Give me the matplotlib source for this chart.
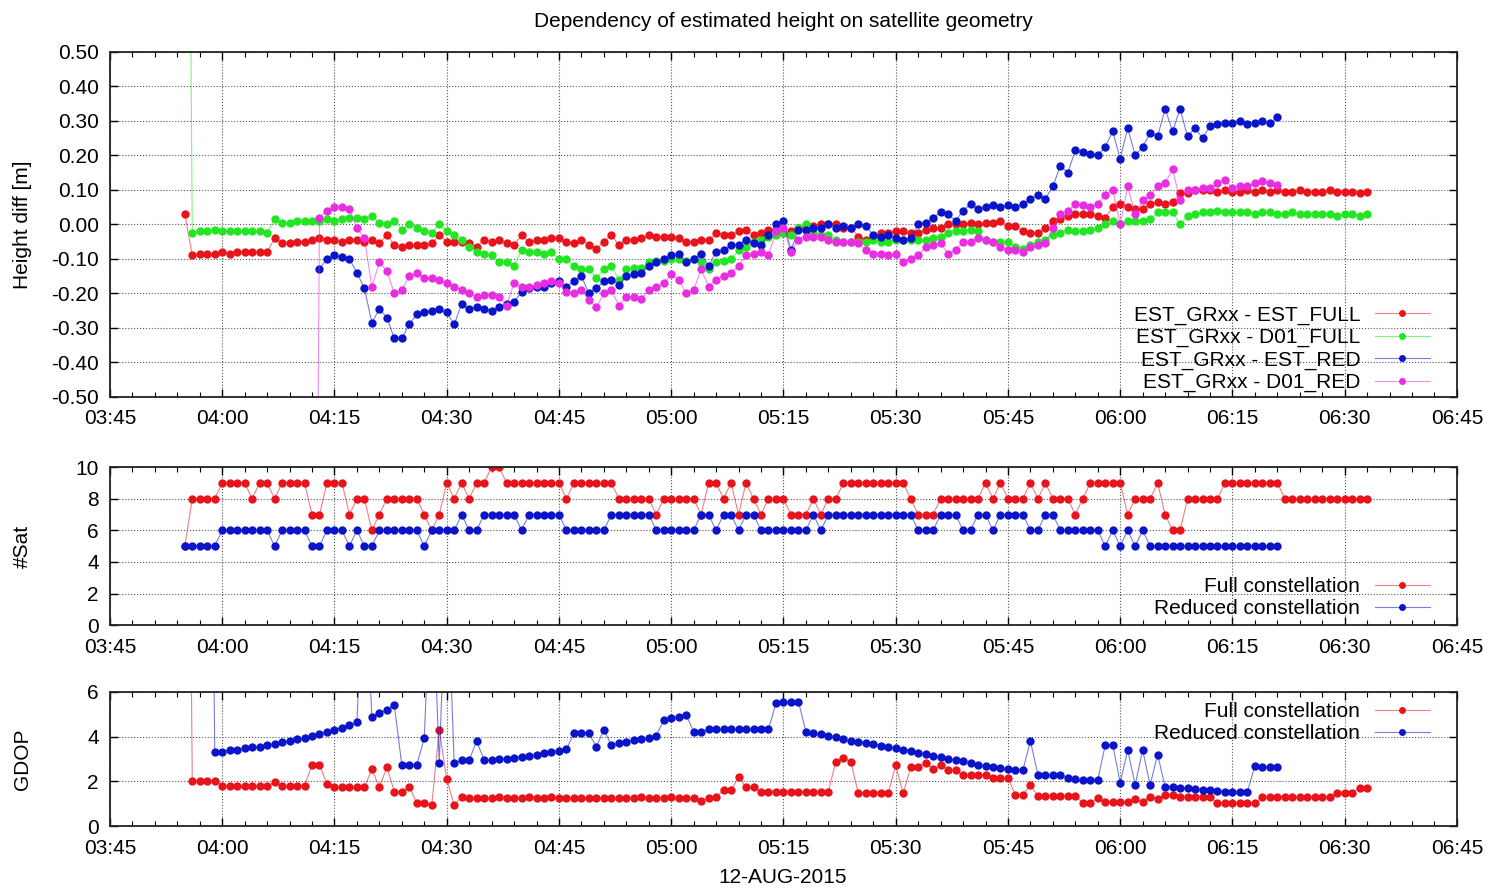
import numpy as np
import matplotlib
matplotlib.use('Agg')
import matplotlib.pyplot as plt
from matplotlib.ticker import MultipleLocator, FuncFormatter

plt.rcParams['font.family'] = ['Liberation Sans', 'DejaVu Sans']
plt.rcParams['font.size'] = 15

# sample grid: one value per minute, first sample time given as HH:MM
full_start = "03:55"     # full constellation (heights, #Sat, GDOP)
red_start = "04:12"      # reduced constellation heights (magenta starts with a spike)
est_red_start = "04:13"
sat_red_start = "03:55"  # reduced constellation #Sat / GDOP

# height differences [m]
est_full = [0.03,
    -0.09, -0.085, -0.085, -0.085, -0.08, -0.085, -0.08, -0.08, -0.08, -0.08, -0.08,
    -0.04,
    -0.055, -0.055, -0.05, -0.05, -0.045, -0.04, -0.045,
    -0.045, -0.05, -0.045, -0.045, -0.05, -0.045,
    -0.055, -0.03, -0.06, -0.065, -0.06,
    -0.06, -0.06, -0.055, -0.03, -0.05,
    -0.05, -0.05, -0.055, -0.065, -0.045,
    -0.05, -0.045, -0.055, -0.06, -0.03,
    -0.05, -0.045, -0.045, -0.04, -0.04,
    -0.05, -0.055, -0.045,
    -0.06, -0.07, -0.05, -0.03, -0.06, -0.045, -0.045,
    -0.04, -0.03, -0.035, -0.035, -0.035, -0.04, -0.05, -0.05, -0.045, -0.045,
    -0.026, -0.03, -0.03, -0.02, -0.015, -0.03, -0.025, -0.015, -0.02, -0.026,
    -0.02, -0.01, -0.005, -0.005, 0.0, 0.0, 0.0, -0.01, -0.01, -0.035,
    -0.045, -0.035, -0.025, -0.025, -0.02, -0.02, -0.025, -0.025, -0.015, -0.01,
    -0.01, 0.0, 0.0, 0.0, 0.005, 0.0, 0.005, 0.005, 0.01, -0.005,
    -0.005, -0.02, -0.025, -0.025, -0.01, 0.01, 0.015, 0.025, 0.03, 0.03,
    0.03, 0.025, 0.02, 0.05, 0.06, 0.05, 0.045, 0.045, 0.06, 0.065,
    0.06, 0.065, 0.09, 0.09, 0.1, 0.1, 0.1, 0.095, 0.1, 0.095,
    0.095, 0.1, 0.095, 0.1, 0.095, 0.1, 0.095, 0.095, 0.1, 0.095,
    0.095, 0.095, 0.1, 0.095, 0.095, 0.095, 0.09, 0.095]

d01_full = [3.0,
    -0.025, -0.02, -0.02, -0.015, -0.02, -0.02, -0.02, -0.02, -0.02, -0.02, -0.025,
    0.015,
    0.005, 0.005, 0.01, 0.01, 0.01, 0.01, 0.015,
    0.01, 0.015, 0.02, 0.02, 0.015, 0.025,
    0.005, 0.0, 0.01, -0.015, 0.0,
    -0.01, -0.02, -0.025, 0.0, -0.02,
    -0.03, -0.045, -0.065, -0.08, -0.085,
    -0.09, -0.11, -0.11, -0.12, -0.075,
    -0.08, -0.08, -0.085, -0.08, -0.1,
    -0.1, -0.12, -0.13,
    -0.13, -0.155, -0.13, -0.12, -0.16, -0.13, -0.125,
    -0.125, -0.11, -0.105, -0.105, -0.1, -0.1, -0.105, -0.1, -0.11, -0.13,
    -0.11, -0.105, -0.1, -0.075, -0.065, -0.05, -0.045, -0.035, -0.03, -0.025,
    -0.03, -0.01, 0.0, -0.025, -0.03, -0.03, -0.045, -0.05, -0.05, -0.05,
    -0.05, -0.045, -0.05, -0.05, -0.045, -0.045, -0.045, -0.045, -0.045, -0.04,
    -0.035, -0.025, -0.02, -0.02, -0.015, -0.02, -0.045, -0.05, -0.05, -0.05,
    -0.065, -0.07, -0.06, -0.05, -0.045, -0.03, -0.025, -0.015, -0.02, -0.02,
    -0.015, -0.01, 0.0, 0.01, 0.0, 0.01, 0.01, 0.01, 0.015, 0.035,
    0.035, 0.035, 0.0, 0.025, 0.03, 0.035, 0.035, 0.04, 0.035, 0.035,
    0.035, 0.035, 0.03, 0.035, 0.035, 0.03, 0.03, 0.035, 0.03, 0.03,
    0.03, 0.03, 0.03, 0.025, 0.03, 0.03, 0.025, 0.03]

est_red = [-0.128, -0.10, -0.09, -0.095, -0.10, -0.14, -0.185, -0.285,
    -0.245, -0.27, -0.33, -0.33, -0.29, -0.26, -0.255, -0.25, -0.245, -0.255,
    -0.29, -0.23, -0.245, -0.24, -0.245, -0.25, -0.24, -0.23, -0.225, -0.195,
    -0.185, -0.18, -0.18, -0.17, -0.165, -0.18, -0.165, -0.15,
    -0.2, -0.185, -0.165, -0.16, -0.175, -0.15, -0.145,
    -0.14, -0.12, -0.11, -0.1, -0.09, -0.085, -0.11, -0.1, -0.085, -0.12,
    -0.08, -0.075, -0.06, -0.06, -0.045, -0.055, -0.06, -0.03, 0.0, 0.01,
    -0.075, -0.015, -0.015, -0.01, -0.01, 0.0, -0.01, -0.005, -0.01, 0.0,
    -0.005, -0.03, -0.035, -0.03, -0.04, -0.045, -0.04, 0.0, 0.005, 0.02,
    0.035, 0.03, 0.01, 0.04, 0.06, 0.045, 0.05, 0.055, 0.05, 0.055,
    0.05, 0.06, 0.075, 0.085, 0.075, 0.11, 0.17, 0.15, 0.215, 0.21,
    0.205, 0.2, 0.225, 0.27, 0.19, 0.28, 0.2, 0.225, 0.265, 0.255,
    0.335, 0.27, 0.335, 0.255, 0.28, 0.25, 0.285, 0.29, 0.295, 0.295,
    0.3, 0.29, 0.295, 0.3, 0.295, 0.31]

d01_red = [-3.0,
    0.02, 0.04, 0.05, 0.05, 0.045, -0.01, -0.04, -0.18,
    -0.11, -0.135, -0.2, -0.19, -0.15, -0.14, -0.155, -0.155, -0.16, -0.17,
    -0.18, -0.19, -0.2, -0.21, -0.205, -0.205, -0.21, -0.235, -0.17, -0.18,
    -0.18, -0.175, -0.17, -0.165, -0.17, -0.195, -0.2, -0.19,
    -0.22, -0.24, -0.2, -0.19, -0.235, -0.21, -0.21,
    -0.215, -0.19, -0.18, -0.17, -0.145, -0.16, -0.2, -0.19, -0.13, -0.18,
    -0.16, -0.15, -0.14, -0.12, -0.09, -0.085, -0.08, -0.09, -0.02, -0.01,
    -0.08, -0.045, -0.035, -0.035, -0.035, -0.045, -0.05, -0.05, -0.05, -0.055,
    -0.075, -0.085, -0.085, -0.09, -0.085, -0.11, -0.1, -0.09, -0.065, -0.06,
    -0.055, -0.085, -0.075, -0.05, -0.05, -0.04, -0.045, -0.05, -0.065, -0.075,
    -0.075, -0.08, -0.065, -0.06, -0.055, -0.01, 0.03, 0.04, 0.06, 0.055,
    0.05, 0.06, 0.085, 0.1, 0.0, 0.11, 0.03, 0.07, 0.085, 0.11,
    0.12, 0.16, 0.07, 0.1, 0.1, 0.105, 0.105, 0.12, 0.13, 0.105,
    0.11, 0.11, 0.12, 0.125, 0.12, 0.115]

# number of satellites
sat_full = [5, 8, 8, 8, 8, 9, 9, 9, 9, 8, 9, 9, 8, 9, 9, 9, 9, 7, 7, 9, 9, 9, 7, 8, 8,
    6, 7, 8, 8, 8, 8, 8, 7, 6, 7, 9, 8, 9, 8, 9, 9, 10, 10, 9,
    9, 9, 9, 9, 9, 9, 9, 8, 9, 9, 9, 9, 9, 9,
    8, 8, 8, 8, 8, 7, 8, 8, 8, 8, 8, 7, 9, 9, 8, 9, 7, 9, 8, 7, 8, 8, 8,
    7, 7, 7, 8, 7, 8, 8, 9, 9, 9, 9, 9, 9, 9, 9, 9, 8, 7, 7, 7,
    8, 8, 8, 8, 8, 8, 9, 8, 9, 8, 8, 8, 9, 8, 9, 8, 8, 8, 7, 8,
    9, 9, 9, 9, 9, 7, 8, 8, 8, 9, 7, 6, 6, 8, 8, 8, 8, 8,
    9, 9, 9, 9, 9, 9, 9, 9, 8, 8, 8, 8, 8, 8, 8, 8, 8, 8, 8, 8]

sat_red = [5, 5, 5, 5, 5, 6, 6, 6, 6, 6, 6, 6, 5, 6, 6, 6, 6, 5, 5, 6, 6, 6, 5, 6, 5, 5,
    6, 6, 6, 6, 6, 6, 5, 6, 6, 6, 6, 7, 6, 6, 7, 7, 7, 7, 7, 6, 7, 7, 7, 7, 7,
    6, 6, 6, 6, 6, 6, 7, 7, 7, 7, 7, 7, 6, 6, 6, 6, 6, 6, 7, 7, 6, 7, 7, 6, 7, 7,
    6, 6, 6, 6, 6, 6, 6, 7, 6, 7, 7, 7, 7, 7, 7, 7, 7, 7, 7, 7, 7, 6, 6, 6,
    7, 7, 7, 6, 6, 7, 7, 6, 7, 7, 7, 7, 6, 6, 7, 7,
    6, 6, 6, 6, 6, 6, 5, 6, 5, 6, 5, 6,
    5, 5, 5, 5, 5, 5, 5, 5, 5, 5, 5, 5, 5, 5, 5, 5, 5, 5]

# GDOP
gdop_full = [40.0, 2.0, 2.0, 2.0, 2.0, 1.8, 1.8, 1.8, 1.8, 1.8, 1.8, 1.8, 1.95,
    1.8, 1.8, 1.8, 1.8, 2.73, 2.73, 1.9, 1.73, 1.73, 1.73, 1.73, 1.73,
    2.54, 1.73, 2.63, 1.54, 1.54, 1.76, 1.04, 1.04, 0.94, 4.3, 2.1, 0.94, 1.31,
    1.24, 1.25, 1.24, 1.24, 1.3, 1.24, 1.24, 1.25, 1.3, 1.24, 1.24, 1.3, 1.25,
    1.24, 1.24, 1.24, 1.24, 1.25, 1.24, 1.24, 1.25,
    1.25, 1.25, 1.28, 1.25, 1.25, 1.25, 1.28, 1.25, 1.25, 1.25,
    1.13, 1.25, 1.3, 1.6, 1.6, 2.2, 1.73, 1.73,
    1.54, 1.54, 1.54, 1.54, 1.54, 1.54, 1.54, 1.54, 1.54, 1.54,
    2.88, 3.03, 2.88, 1.46, 1.46, 1.46, 1.46, 1.46, 2.73, 1.46,
    2.63, 2.63, 2.84, 2.54, 2.73, 2.5, 2.5, 2.28, 2.28, 2.28, 2.28,
    2.14, 2.14, 2.14, 1.39, 1.39, 1.84, 1.34, 1.34, 1.34, 1.34, 1.34, 1.34,
    1.04, 1.04, 1.24, 1.09, 1.09, 1.09, 1.09, 1.19, 1.09, 1.31, 1.2, 1.39, 1.39,
    1.31, 1.31, 1.31, 1.31, 1.31, 1.04, 1.04, 1.04, 1.04, 1.04, 1.04,
    1.28, 1.28, 1.28, 1.28, 1.28, 1.28, 1.28, 1.28, 1.28, 1.28,
    1.49, 1.49, 1.49, 1.69, 1.69]

gdop_red = [40.0, 40.0, 40.0, 40.0, 3.33, 3.33,
    3.4, 3.42, 3.48, 3.52, 3.55, 3.62, 3.68, 3.75, 3.8, 3.88, 3.95, 4.05,
    4.12, 4.2, 4.3, 4.4, 4.52, 4.65,
    12.0, 4.9, 5.05, 5.2, 5.4, 2.73, 2.73, 2.73, 3.93, 12.0, 2.8, 12.0, 2.8,
    2.95, 2.95, 3.8,
    2.95, 2.95, 3.0, 3.0, 3.05, 3.1, 3.15, 3.2, 3.25, 3.3, 3.35, 3.43,
    4.15, 4.15, 4.15, 3.55, 4.3, 3.62, 3.7, 3.78, 3.85, 3.9, 3.95, 4.03,
    4.75, 4.85, 4.9, 4.97, 4.22, 4.22,
    4.33, 4.33, 4.33, 4.33, 4.33, 4.33, 4.33, 4.33, 4.33,
    5.5, 5.55, 5.57, 5.57, 4.22,
    4.15, 4.1, 4.05, 3.97, 3.9, 3.82, 3.75, 3.72, 3.65, 3.6, 3.55, 3.48, 3.42,
    3.35, 3.28, 3.22, 3.15, 3.08, 3.0, 2.95, 2.9, 2.82, 2.75, 2.7, 2.65, 2.6,
    2.55, 2.52, 2.5,
    3.8, 2.3, 2.28, 2.28, 2.28, 2.14, 2.1, 2.08, 2.06, 2.06,
    3.62, 3.62, 1.94, 3.4, 1.84, 3.4, 1.84, 3.2,
    1.76, 1.76, 1.72, 1.7, 1.65, 1.62, 1.6, 1.56, 1.54, 1.54, 1.54, 1.54,
    2.7, 2.65, 2.63, 2.63]

RED = '#e8141c'
GREEN = '#22e622'
BLUE = '#0a14c8'
MAGENTA = '#e82ee0'


def minutes(hhmm):
    h, m = hhmm.split(':')
    return int(h) * 60 + int(m)


def times(start, values):
    return minutes(start) + np.arange(len(values))


def hhmm(x, pos):
    x = int(round(x))
    return f'{x // 60:02d}:{x % 60:02d}'


def draw(ax, start, values, color, label):
    rgba = matplotlib.colors.to_rgba(color, 0.55)
    ax.plot(times(start, values), values, '-o', color=rgba, lw=0.8, ms=6,
            mfc=color, mec=color, mew=0, label=label)


def style(ax):
    ax.set_xlim(225, 405)
    ax.xaxis.set_major_locator(MultipleLocator(15))
    ax.xaxis.set_minor_locator(MultipleLocator(3))
    ax.xaxis.set_major_formatter(FuncFormatter(hhmm))
    ax.tick_params(which='both', direction='in', top=True, right=True)
    ax.tick_params(which='major', length=6, width=1)
    ax.tick_params(which='minor', length=3.5, width=0.8)
    ax.tick_params(axis='x', pad=9)
    ax.tick_params(axis='y', pad=8)
    ax.grid(True, which='major', ls=':', color='#555555', lw=0.8)
    ax.set_axisbelow(True)
    for s in ax.spines.values():
        s.set_linewidth(1.3)
        s.set_color('#222222')


def legend(ax, loc, anchor):
    leg = ax.legend(loc=loc, bbox_to_anchor=anchor, frameon=False,
                    markerfirst=False, handlelength=2.65, handletextpad=0.7,
                    labelspacing=0.15, borderpad=0, borderaxespad=0, fontsize=15)
    for h in leg.legend_handles:
        h.set_markersize(5)


fig = plt.figure(figsize=(14.94, 8.88), dpi=100)
ax1 = fig.add_axes([0.0736, 0.553, 0.9016, 0.3885])
ax2 = fig.add_axes([0.0736, 0.296, 0.9016, 0.178])
ax3 = fig.add_axes([0.0736, 0.0698, 0.9016, 0.151])

# top: height differences
draw(ax1, full_start, est_full, RED, 'EST_GRxx - EST_FULL')
draw(ax1, full_start, d01_full, GREEN, 'EST_GRxx - D01_FULL')
draw(ax1, est_red_start, est_red, BLUE, 'EST_GRxx - EST_RED')
draw(ax1, red_start, d01_red, MAGENTA, 'EST_GRxx - D01_RED')
style(ax1)
ax1.set_ylim(-0.5, 0.5)
ax1.yaxis.set_major_locator(MultipleLocator(0.1))
ax1.yaxis.set_major_formatter(FuncFormatter(lambda v, p: f'{v:.2f}'))
ax1.set_ylabel('Height diff [m]')
ax1.yaxis.set_label_coords(-0.058, 0.5)
ax1.set_title('Dependency of estimated height on satellite geometry', fontsize=15, pad=18)
legend(ax1, 'lower right', (0.98, 0.014))

# middle: number of satellites
draw(ax2, full_start, sat_full, RED, 'Full constellation')
draw(ax2, sat_red_start, sat_red, BLUE, 'Reduced constellation')
style(ax2)
ax2.set_ylim(0, 10)
ax2.yaxis.set_major_locator(MultipleLocator(2))
ax2.set_ylabel('#Sat')
ax2.yaxis.set_label_coords(-0.058, 0.5)
legend(ax2, 'lower right', (0.98, 0.043))

# bottom: GDOP
draw(ax3, full_start, gdop_full, RED, 'Full constellation')
draw(ax3, sat_red_start, gdop_red, BLUE, 'Reduced constellation')
style(ax3)
ax3.set_ylim(0, 6)
ax3.yaxis.set_major_locator(MultipleLocator(2))
ax3.set_ylabel('GDOP')
ax3.yaxis.set_label_coords(-0.058, 0.5)
legend(ax3, 'upper right', (0.98, 0.925))

fig.text(0.5236, 0.0113, '12-AUG-2015', ha='center', va='center', fontsize=15)

fig.savefig('out.png', dpi=100)
